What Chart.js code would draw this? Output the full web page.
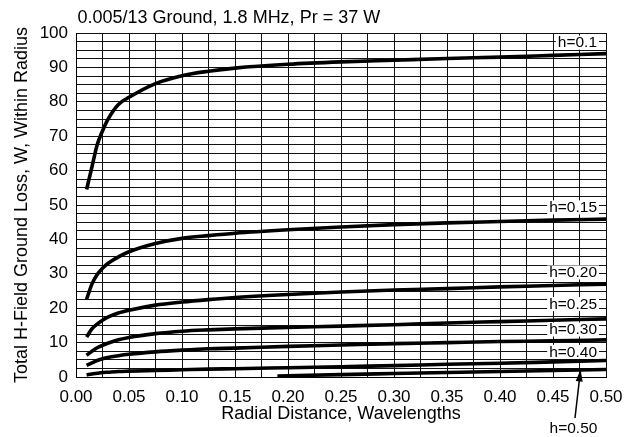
<!DOCTYPE html>
<html>
<head>
<meta charset="utf-8">
<title>H-Field Ground Loss</title>
<script src="https://cdn.jsdelivr.net/npm/chart.js@4.4.1/dist/chart.umd.min.js"></script>
<style>
  html, body { margin: 0; padding: 0; background: #fff; }
  #wrap { width: 634px; height: 437px; }
</style>
</head>
<body>
<div id="wrap"><canvas id="lossChart" width="634" height="437"></canvas></div>
<script>
// Radial distance (wavelengths) shared by most of the curves
const radius = [0.01, 0.015, 0.02, 0.025, 0.03, 0.04, 0.05, 0.075, 0.1, 0.125, 0.15, 0.2, 0.25, 0.3, 0.35, 0.4, 0.45, 0.5];
// The h=0.50 curve only rises off the axis further out
const radiusH50 = [0.19, 0.25, 0.3, 0.35, 0.4, 0.45, 0.5];

// Ground loss in watts within the radius, one array per antenna height
const lossH010 = [54.5, 61.0, 67.5, 71.5, 74.8, 79.2, 81.3, 85.3, 87.6, 88.9, 89.8, 90.9, 91.6, 92.1, 92.6, 93.0, 93.5, 94.0];
const lossH015 = [22.6, 27.0, 29.8, 31.6, 33.0, 34.9, 36.4, 38.8, 40.3, 41.1, 41.8, 42.8, 43.6, 44.3, 44.8, 45.2, 45.6, 45.9];
const lossH020 = [11.6, 14.0, 15.4, 16.5, 17.4, 18.6, 19.4, 20.9, 21.8, 22.5, 23.1, 24.0, 24.7, 25.3, 25.7, 26.2, 26.6, 27.0];
const lossH025 = [6.3, 7.5, 8.5, 9.2, 9.8, 10.8, 11.5, 12.6, 13.3, 13.7, 14.0, 14.4, 14.8, 15.2, 15.7, 16.1, 16.5, 16.9];
const lossH030 = [3.4, 4.1, 4.8, 5.3, 5.7, 6.2, 6.6, 7.3, 7.8, 8.2, 8.4, 8.9, 9.3, 9.7, 10.0, 10.3, 10.5, 10.8];
const lossH040 = [0.6, 0.9, 1.1, 1.3, 1.4, 1.6, 1.7, 1.9, 2.1, 2.3, 2.4, 2.7, 3.0, 3.3, 3.7, 4.0, 4.4, 4.8];
const lossH050 = [0.3, 0.7, 1.0, 1.3, 1.6, 1.9, 2.2];

const heightLabels = ['h=0.1', 'h=0.15', 'h=0.20', 'h=0.25', 'h=0.30', 'h=0.40', 'h=0.50'];
const chartTitle = '0.005/13 Ground, 1.8 MHz, Pr = 37 W';

const FONT = '"Liberation Sans", Arial, Helvetica, sans-serif';
Chart.defaults.font.family = FONT;
Chart.defaults.color = '#000';

function toPoints(xs, ys) {
    return xs.map((x, i) => ({ x: x, y: ys[i] }));
}

const series = [
    [radius, lossH010],
    [radius, lossH015],
    [radius, lossH020],
    [radius, lossH025],
    [radius, lossH030],
    [radius, lossH040],
    [radiusH50, lossH050]
];

// Boxed curve labels along the right edge, plus the title and the arrowed h=0.50 note
const curveLabels = {
    id: 'curveLabels',
    afterDraw(chart) {
        const { ctx, chartArea, scales } = chart;
        ctx.save();

        ctx.fillStyle = '#000';
        ctx.font = '18px ' + FONT;
        ctx.textAlign = 'left';
        ctx.textBaseline = 'alphabetic';
        ctx.fillText(chartTitle, chartArea.left + 1.5, 23);

        // label heights in axis units (first six labels sit inside the plot)
        const labelLevels = [97.2, 49.3, 30.4, 21.2, 13.8, 7.3];
        ctx.font = '15.5px ' + FONT;
        ctx.textBaseline = 'middle';
        ctx.textAlign = 'right';
        const textRight = chartArea.right - 9;
        labelLevels.forEach((level, i) => {
            const y = scales.y.getPixelForValue(level);
            const w = ctx.measureText(heightLabels[i]).width;
            ctx.fillStyle = '#fff';
            ctx.fillRect(textRight - w - 2, y - 7, w + 4, 14);
            ctx.fillStyle = '#000';
            ctx.fillText(heightLabels[i], textRight, y + 0.5);
        });

        // h=0.50 note under the axis with an arrow up to its curve
        ctx.textAlign = 'center';
        ctx.fillText(heightLabels[6], 573.5, 428.5);
        const tipX = scales.x.getPixelForValue(0.476);
        const tipY = scales.y.getPixelForValue(2.2);
        const tailX = 575, tailY = 418;
        const ang = Math.atan2(tipY - tailY, tipX - tailX);
        ctx.strokeStyle = '#000';
        ctx.lineWidth = 1.5;
        ctx.beginPath();
        ctx.moveTo(tailX, tailY);
        ctx.lineTo(tipX - 8 * Math.cos(ang), tipY - 8 * Math.sin(ang));
        ctx.stroke();
        ctx.beginPath();
        ctx.moveTo(tipX, tipY);
        ctx.lineTo(tipX - 12 * Math.cos(ang) + 3.5 * Math.sin(ang), tipY - 12 * Math.sin(ang) - 3.5 * Math.cos(ang));
        ctx.lineTo(tipX - 12 * Math.cos(ang) - 3.5 * Math.sin(ang), tipY - 12 * Math.sin(ang) + 3.5 * Math.cos(ang));
        ctx.closePath();
        ctx.fill();

        ctx.restore();
    }
};

const ctx = document.getElementById('lossChart').getContext('2d');
new Chart(ctx, {
    type: 'line',
    data: {
        datasets: series.map((s, i) => ({
            label: heightLabels[i],
            data: toPoints(s[0], s[1]),
            borderColor: '#000',
            borderWidth: 3.6,
            pointRadius: 0,
            fill: false,
            cubicInterpolationMode: 'monotone'
        }))
    },
    options: {
        responsive: false,
        animation: false,
        layout: { padding: { top: 33, right: 28, bottom: 0, left: 0 } },
        plugins: {
            legend: { display: false },
            tooltip: { enabled: false },
            title: { display: false }
        },
        scales: {
            x: {
                type: 'linear',
                min: 0,
                max: 0.5,
                afterFit: scale => { scale.height = 60; },
                grid: { color: '#111', lineWidth: 1, drawTicks: false },
                border: { color: '#000', width: 1 },
                ticks: {
                    stepSize: 0.025,
                    maxTicksLimit: 100,
                    autoSkip: false,
                    maxRotation: 0,
                    padding: 10,
                    font: { size: 17 },
                    callback: v => (Math.round(v * 1000) % 50 === 0 ? v.toFixed(2) : '')
                },
                title: {
                    display: true,
                    text: 'Radial Distance, Wavelengths',
                    font: { size: 18 },
                    padding: { top: 0, bottom: 12 }
                }
            },
            y: {
                min: 0,
                max: 100,
                afterFit: scale => { scale.width = 76; },
                grid: { color: '#111', lineWidth: 1, drawTicks: false },
                border: { color: '#000', width: 1 },
                ticks: {
                    stepSize: 2.5,
                    maxTicksLimit: 100,
                    autoSkip: false,
                    padding: 8,
                    font: { size: 17 },
                    callback: v => (v % 10 === 0 ? String(v) : '')
                },
                title: {
                    display: true,
                    text: 'Total H-Field Ground Loss, W, Within Radius',
                    font: { size: 18 },
                    padding: { top: 11, bottom: 0 }
                }
            }
        }
    },
    plugins: [curveLabels]
});
</script>
</body>
</html>
